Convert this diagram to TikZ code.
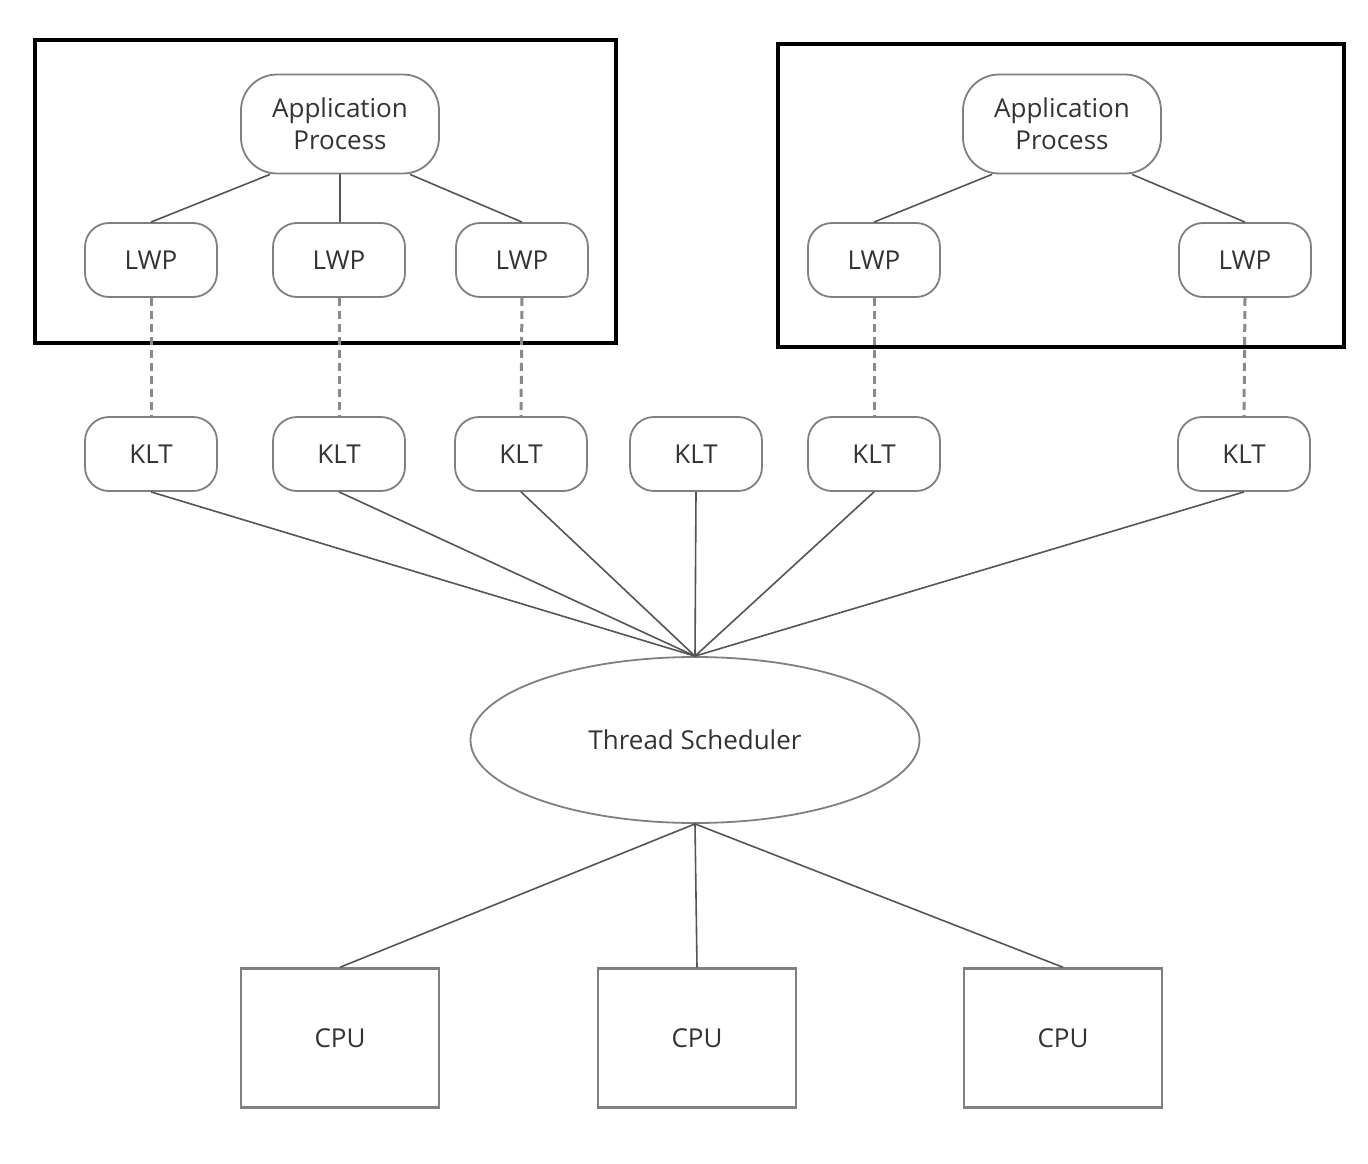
\documentclass[tikz,border=0pt]{standalone}
\usepackage{fontspec}
\setmainfont{Open Sans}
\usetikzlibrary{shapes.geometric,calc}
\definecolor{edge}{HTML}{555555}
\definecolor{brd}{HTML}{808080}
\definecolor{dsh}{HTML}{8A8A8A}
\definecolor{txt}{HTML}{333333}
\tikzset{
  base/.style={draw=brd,line width=1.8pt,text=txt,font=\fontsize{26}{32}\selectfont,inner sep=0pt,align=center},
  appbox/.style={base,rounded corners=36pt,minimum width=198pt,minimum height=99pt},
  thrbox/.style={base,rounded corners=24pt,minimum width=132pt,minimum height=74pt},
  cpubox/.style={base,minimum width=198pt,minimum height=139pt,line width=2.5pt},
  sched/.style={base,ellipse,minimum width=449pt,minimum height=166pt},
  conn/.style={draw=edge,line width=1.6pt},
  dconn/.style={draw=dsh,line width=3pt,dash pattern=on 8pt off 5pt},
  frame/.style={draw=black,line width=4.5pt}
}
\begin{document}
\begin{tikzpicture}[x=1pt,y=-1pt]
\useasboundingbox (0,0) rectangle (1368,1164);
\fill[white] (0,0) rectangle (1368,1164);

\draw[frame] (35,40) rectangle (616,343);
\draw[frame] (778,44) rectangle (1344,347);

\node[appbox] (app1) at (340,124) {Application\\Process};
\node[appbox] (app2) at (1062,124) {Application\\Process};

\node[thrbox] (lwp1) at (151,260) {LWP};
\node[thrbox] (lwp2) at (339,260) {LWP};
\node[thrbox] (lwp3) at (522,260) {LWP};
\node[thrbox] (lwp4) at (874,260) {LWP};
\node[thrbox] (lwp5) at (1245,260) {LWP};

\node[thrbox] (klt1) at (151,454) {KLT};
\node[thrbox] (klt2) at (339,454) {KLT};
\node[thrbox] (klt3) at (521,454) {KLT};
\node[thrbox] (klt4) at (696,454) {KLT};
\node[thrbox] (klt5) at (874,454) {KLT};
\node[thrbox] (klt6) at (1244,454) {KLT};

\node[sched] (ts) at (695,740) {Thread Scheduler};

\node[cpubox] (cpu1) at (340,1038) {CPU};
\node[cpubox] (cpu2) at (697,1038) {CPU};
\node[cpubox] (cpu3) at (1063,1038) {CPU};

\draw[conn] ([xshift=-70pt]app1.south) -- (lwp1.north);
\draw[conn] (app1.south) -- (app1.south |- lwp2.north);
\draw[conn] ([xshift=70pt]app1.south) -- (lwp3.north);
\draw[conn] ([xshift=-70pt]app2.south) -- (lwp4.north);
\draw[conn] ([xshift=70pt]app2.south) -- (lwp5.north);

\draw[dconn] (lwp1.south) -- (klt1.north);
\draw[dconn] (lwp2.south) -- (klt2.north);
\draw[dconn] (lwp3.south) -- (klt3.north);
\draw[dconn] (lwp4.south) -- (klt5.north);
\draw[dconn] (lwp5.south) -- (klt6.north);

\foreach \k in {klt1,klt2,klt3,klt4,klt5,klt6}
  \draw[conn] (\k.south) -- (ts.north);

\foreach \c in {cpu1,cpu2,cpu3}
  \draw[conn] (ts.south) -- (\c.north);
\end{tikzpicture}
\end{document}
